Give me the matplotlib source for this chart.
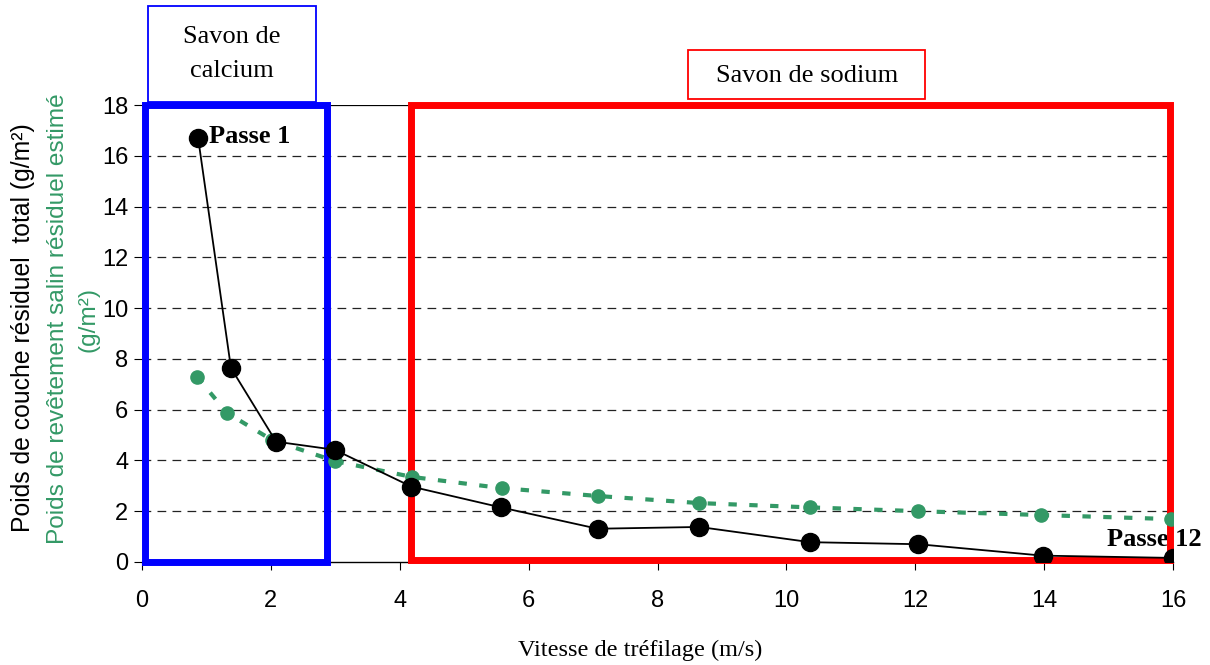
import numpy as np
import matplotlib.pyplot as plt
from matplotlib.patches import Rectangle

# Vitesse de trefilage (m/s) and residual weights
vitesse = [0.87, 1.38, 2.08, 2.99, 4.18, 5.57, 7.07, 8.65, 10.37, 12.05, 13.98, 16.0]
poids_total = [16.7, 7.64, 4.74, 4.42, 2.97, 2.15, 1.31, 1.38, 0.78, 0.70, 0.25, 0.16]
vitesse_salin = [0.85, 1.32, 2.02, 3.0, 4.19, 5.58, 7.07, 8.65, 10.37, 12.05, 13.95, 15.97]
poids_salin = [7.3, 5.87, 4.8, 3.97, 3.35, 2.91, 2.6, 2.32, 2.15, 2.0, 1.85, 1.69]

yticks = [0, 2, 4, 6, 8, 10, 12, 14, 16, 18]
xticks = [0, 2, 4, 6, 8, 10, 12, 14, 16]

green = '#339966'
serif = 'Liberation Serif'
sans = 'Liberation Sans'
W, H = 1210, 665

fig = plt.figure(figsize=(12.1, 6.65), dpi=100)
ax = fig.add_axes([0.1174, 0.1549, 0.852, 0.6872])

#Grid lines
for y in yticks[1:-1]:
    ax.axhline(y, color='#222222', lw=0.9, ls=(0, (7, 5)), zorder=0)
ax.axhline(18, color='black', lw=0.9, zorder=0)

#Savon boxes
ax.add_patch(Rectangle((0.05, 0.0), 2.82, 18.0, fill=False, ec='#0000ff', lw=5, zorder=3, clip_on=False))
ax.add_patch(Rectangle((4.18, 0.08), 11.77, 17.92, fill=False, ec='#ff0000', lw=5, zorder=3, clip_on=False))

ax.plot(vitesse_salin, poids_salin, color=green, lw=3, ls=(0, (2, 3)), marker='o', ms=9.5, mec=green, zorder=4)
ax.plot(vitesse, poids_total, color='black', lw=1.3, marker='o', ms=13, zorder=5)

ax.text(1.04, 16.75, 'Passe 1', fontsize=19, fontweight='bold', family=serif, va='center', ha='left', zorder=6)
ax.text(14.97, 0.87, 'Passe 12', fontsize=19, fontweight='bold', family=serif, va='center', ha='left', zorder=2)

#Label boxes above the plot (figure pixel coords)
fig.add_artist(Rectangle((148 / W, 1 - 102 / H), 168 / W, 96 / H, transform=fig.transFigure,
                         fill=False, ec='#0000ff', lw=1.3))
fig.text(232 / W, 1 - 54 / H, 'Savon de\ncalcium', fontsize=19, family=serif, ha='center', va='center',
         linespacing=1.75)
fig.add_artist(Rectangle((688 / W, 1 - 99 / H), 237 / W, 49 / H, transform=fig.transFigure,
                         fill=False, ec='#ff0000', lw=1.3))
fig.text(807 / W, 1 - 76 / H, 'Savon de sodium', fontsize=19, family=serif, ha='center', va='center')

ax.set_xlim(0, 16)
ax.set_ylim(0, 18)
ax.set_xticks(xticks)
ax.set_yticks(yticks)
ax.tick_params(labelsize=17, length=6, direction='out')
for lab in ax.get_xticklabels() + ax.get_yticklabels():
    lab.set_family(sans)
ax.tick_params(axis='x', pad=14)
ax.tick_params(axis='y', pad=4)
for s in ['top', 'right', 'left']:
    ax.spines[s].set_visible(False)
ax.spines['bottom'].set_linewidth(1.0)

fig.text(640 / W, 1 - 650 / H, 'Vitesse de tréfilage (m/s)', fontsize=17.5, family=serif, ha='center', va='center')
fig.text(23 / W, 1 - 328 / H, 'Poids de couche résiduel  total (g/m²)', fontsize=17.8, family=sans,
         rotation=90, ha='center', va='center')
fig.text(73 / W, 1 - 319 / H, 'Poids de revêtement salin résiduel estimé\n(g/m²)', fontsize=17.6, family=sans,
         color=green, rotation=90, ha='center', va='center', multialignment='center', linespacing=1.5)

fig.savefig('out.png', dpi=100)
